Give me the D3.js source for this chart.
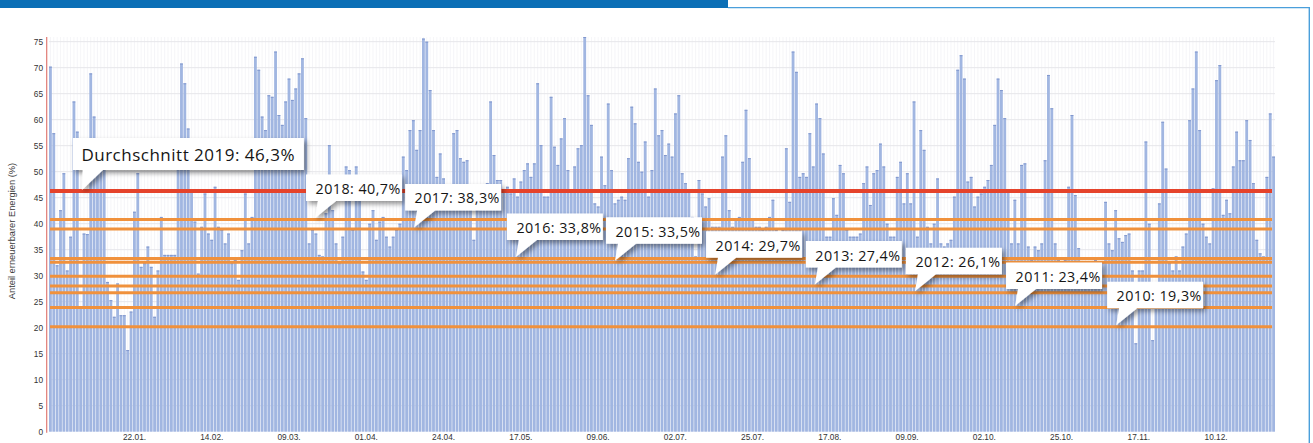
<!DOCTYPE html>
<html><head><meta charset="utf-8">
<script src="https://cdn.jsdelivr.net/npm/d3@7"></script>
<style>body{margin:0;background:#fff;} svg{display:block}</style>
</head><body><svg id="c" width="1313" height="443"></svg>
<script>
// Daily share of renewable energy 2019 (%), day index 0 = 01.01.
const values = [
70.2,57.4,32,42.6,49.7,31,37.5,63.5,57.7,24,
38.1,38,68.9,60.6,56,54,52,28.8,25.3,22.1,
28.5,22.4,22.4,15.7,23.1,42.3,49.7,31.7,32.4,35.6,
31.7,22.1,31,41.3,34,34,34,34,55,70.8,
67,58.3,46.5,40.4,30.4,39.4,45.8,38.1,36.9,47.1,
39.4,38.8,36.2,38.1,32.4,33,29.2,34.9,45.8,36.2,
41.3,72.1,69.6,60.6,58,64.7,64.4,73.1,60.9,59,
63.5,67.9,63.8,66,68.9,71.8,60.3,36.2,38.8,38.1,
34,33.7,42,55.1,42.6,36.2,32.4,37.5,51,50.3,
38.8,51,49,30.8,29.2,40,42.6,36.9,40.4,41.3,
37.5,35.6,37.5,38.8,40,52.9,50.3,58,59.9,54.2,
58,75.6,75,65.7,58,49,53.5,48.7,45.8,43.9,
57.4,58,52.6,51.9,52.2,46.5,36.9,42.6,46.5,43.9,
47.8,63.5,53.2,48.4,48.4,46.5,47.1,45.8,48.7,45.2,
48.1,50.3,51.6,49,51.6,67,55.1,45.2,45.2,64.4,
54.8,51.3,56.4,60.3,50.3,46.5,51,54.5,55.1,76,
64.7,59,43.9,43.3,52.9,47.4,63.1,50.3,43.9,44.6,
45.2,44.6,52.6,62.5,59.3,51.9,50,55.8,45.2,50.3,
66,57,58,53.2,55.4,52.9,61.2,64.7,49.7,47.8,
46.5,41.3,33.7,48.4,45.8,43.3,44.9,39.4,39.4,39.4,
52.9,57,42.6,39.4,40.7,41.3,51.9,61.9,52.6,40.7,
39.4,39.4,38.8,39.4,41.3,44.6,38.8,38.1,38.8,54.5,
44.2,73.1,69.2,49,49.7,49,57.4,51,63.1,60.3,
53.5,37.5,37.5,44.9,41.7,51.3,49.7,38.8,37.5,37.5,
37.5,38.1,47.8,51,43.6,49.7,50.3,55.4,51,40,
37.5,37.5,49,51.9,43.9,49.7,43.9,63.5,37.5,58,
54.2,39.4,36.2,40,48.7,36.2,35.6,36.2,36.9,45.2,
69.6,72.4,67.9,48.1,49,43.3,45.2,45.8,47.1,48.4,
51.3,59,67.9,65.7,60.3,46.5,36.2,44.6,36.2,51.3,
51.6,35.6,33,35.6,34.9,36.2,52.2,68.6,62.2,36.2,
33,32.4,33,47.1,60.9,45.5,35.3,32.4,31,32.4,
31,33,31.7,32.4,44.2,36.2,34.9,42.6,37.2,36.5,
37.8,38.1,31,17,31,31,55.8,40,17.6,25,
43.9,59.6,50.6,32.4,31,33.7,31,35.6,38.1,59.9,
66,73.1,58,40,37.5,36.2,46.8,67.6,70.5,41.7,
44.6,42,51,57.7,52.2,52.2,59.9,56.1,47.8,36.9,
34.3,33.7,49,61.2,52.9
];
const dayIndex = d3.range(values.length);
const yTicks = d3.range(0, 76, 5);
const dateLabels = ["22.01.","14.02.","09.03.","01.04.","24.04.","17.05.","09.06.","02.07.","25.07.","17.08.","09.09.","02.10.","25.10.","17.11.","10.12."];
const dateDays = [21,44,67,90,113,136,159,182,205,228,251,274,297,320,343];
const yTitle = "Anteil erneuerbarer Energien (%)";

const avgLabel = "Durchschnitt 2019: 46,3%";
const avgValue = 46.3;
const avgAnchorDay = 9.8;

const yearLabels = ["2018: 40,7%","2017: 38,3%","2016: 33,8%","2015: 33,5%","2014: 29,7%","2013: 27,4%","2012: 26,1%","2011: 23,4%","2010: 19,3%"];
const yearLines  = [40.8, 39.0, 33.3, 32.6, 29.9, 28.0, 26.7, 23.9, 20.2];
const yearAnchorDays = [79.2, 108.7, 139, 168.5, 198.3, 228, 257.8, 287.6, 317.7];

const svg = d3.select("#c");
const W = 1313, H = 443;
const L = 49, R = 1275, T = 37, B = 431.7;

// frame / header
svg.append("rect").attr("x",0).attr("y",0).attr("width",728).attr("height",8).attr("fill","#0b6fb6");
svg.append("path").attr("d",`M728,7.6 H1309.3 V${H}`).attr("fill","none").attr("stroke","#4a9fdb").attr("stroke-width",1.4);

const x = d3.scaleBand().domain(dayIndex).range([L, R]).paddingInner(0.16);
const xl = d3.scaleLinear().domain([0, values.length]).range([L, R]);
const y = d3.scaleLinear().domain([0, 75.9]).range([B, T]);

const defs = svg.append("defs");
const f = defs.append("filter").attr("id","sh").attr("x","-20%").attr("y","-30%").attr("width","150%").attr("height","190%");
f.append("feDropShadow").attr("dx",2.5).attr("dy",3).attr("stdDeviation",2.4).attr("flood-color","#000").attr("flood-opacity",0.42);

// grid
const g = svg.append("g");
g.selectAll("line.v").data(dayIndex).join("line")
  .attr("x1", d => x(d) + x.bandwidth()/2).attr("x2", d => x(d) + x.bandwidth()/2)
  .attr("y1", T).attr("y2", B).attr("stroke", "#f0f1f5").attr("stroke-width", 0.7);
g.selectAll("line.h").data(yTicks.filter(t => t > 0)).join("line")
  .attr("x1", L).attr("x2", R).attr("y1", d => y(d)).attr("y2", d => y(d))
  .attr("stroke", "#e6e6ea").attr("stroke-width", 1);

// bars
svg.append("g").selectAll("rect").data(values).join("rect")
  .attr("x", (d,i) => x(i)).attr("width", x.bandwidth())
  .attr("y", d => y(Math.min(d, 75.9))).attr("height", d => B - y(Math.min(d, 75.9)))
  .attr("fill", "#a1b6e1");
svg.append("g").selectAll("rect").data(values).join("rect")
  .attr("x", (d,i) => x(i)).attr("width", x.bandwidth())
  .attr("y", d => y(Math.min(d, 75.9))).attr("height", 1)
  .attr("fill", "#8197cd");

// y axis
const ya = svg.append("g").attr("transform", `translate(${L-2},0)`)
  .call(d3.axisLeft(y).tickValues(yTicks).tickSize(0).tickPadding(4));
ya.select(".domain").remove();
ya.selectAll("text").attr("font-family","Liberation Sans, Arial, sans-serif").attr("font-size",8.3).attr("fill","#333");
svg.append("line").attr("x1",L-2.3).attr("x2",L-2.3).attr("y1",T).attr("y2",B+1).attr("stroke","#e07a74").attr("stroke-width",1.2);

svg.append("text").attr("transform", `translate(14.5,231) rotate(-90)`)
  .attr("text-anchor","middle").attr("font-family","Liberation Sans, Arial, sans-serif")
  .attr("font-size",9.3).attr("fill","#3a3a3a").text(yTitle);

// x labels
svg.append("g").selectAll("text").data(dateDays).join("text")
  .attr("x", (d,i) => xl(d) + 15).attr("y", 439.5)
  .attr("text-anchor","middle").attr("font-family","Liberation Sans, Arial, sans-serif")
  .attr("font-size",8.3).attr("fill","#333").text((d,i) => dateLabels[i]);

// reference lines
const lineX1 = L + 1, lineX2 = 1272;
svg.append("g").selectAll("line").data(yearLines).join("line")
  .attr("x1", lineX1).attr("x2", lineX2).attr("y1", d => y(d)).attr("y2", d => y(d))
  .attr("stroke", "#f0913c").attr("stroke-width", 3);
svg.append("line").attr("x1", lineX1).attr("x2", lineX2).attr("y1", y(avgValue)).attr("y2", y(avgValue))
  .attr("stroke", "#e5432b").attr("stroke-width", 4);

// callouts
function callout(text, tipX, tipY, w, h, gap, fs, tx, ty, bl, br) {
  const left = tipX - 9, bottom = tipY - gap, top = bottom - h;
  const grp = svg.append("g").attr("filter","url(#sh)");
  grp.append("path")
    .attr("d", `M${left},${top} H${left+w} V${bottom} H${left+br} L${tipX},${tipY} L${left+bl},${bottom} H${left} Z`)
    .attr("fill","#fff");
  svg.append("text").attr("x", left + tx).attr("y", top + ty)
    .attr("font-family","Open Sans, sans-serif").attr("font-size", fs)
    .attr("letter-spacing", fs > 16 ? 0.5 : 0.45).attr("fill","#151515").text(text);
}
callout(avgLabel, xl(avgAnchorDay), y(avgValue) - 1, 231, 32, 20, 17, 8.5, 23.5, 10, 30);
yearLabels.forEach((t, i) => {
  callout(t, xl(yearAnchorDays[i]), y(yearLines[i]) - 1.5, 96, 26.5, 17, 14.3, 9.5, 19.5, 12, 30);
});
</script></body></html>
